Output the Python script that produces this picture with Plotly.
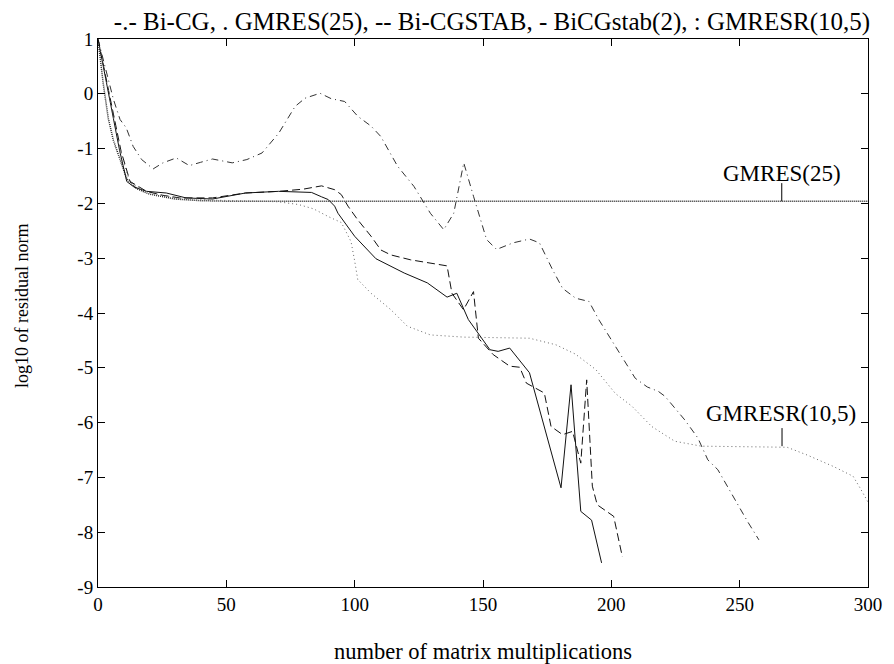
import plotly.graph_objects as go

# ---- data ----
bicg_x = [0, 3, 6, 8.6, 11, 13.7, 17, 21.5, 25.3, 30.5, 35.6, 40, 44.6, 52.3, 58, 63.9, 70.4, 76.8, 80.7,
          86.5, 90.9, 96.1, 101.2, 106.4, 110.2, 116.7, 123.1, 129.5, 134.7, 138.6, 142.5, 146.3, 151.4,
          155.3, 161.7, 168.1, 172, 177.1, 181, 186.1, 191.3, 195.1, 201.6, 209.3, 214, 218.3, 220.9,
          228.6, 233.7, 237.6, 241.5, 248, 253, 257.5]
bicg_y = [1.0, 0.45, -0.1, -0.47, -0.62, -0.96, -1.2, -1.37, -1.26, -1.17, -1.31, -1.25, -1.19, -1.26, -1.2,
          -1.08, -0.72, -0.23, -0.08, 0.01, -0.09, -0.14, -0.41, -0.59, -0.78, -1.32, -1.69, -2.18, -2.48,
          -2.18, -1.26, -1.87, -2.66, -2.84, -2.72, -2.65, -2.72, -3.21, -3.55, -3.73, -3.79, -4.12, -4.61,
          -5.19, -5.35, -5.43, -5.52, -5.95, -6.28, -6.68, -6.86, -7.4, -7.8, -8.14]

gmres_x = [0, 2, 4, 6, 8.6, 11.2, 15, 20, 30, 40, 50, 300]
gmres_y = [1.0, 0.2, -0.45, -0.85, -1.2, -1.55, -1.73, -1.83, -1.92, -1.95, -1.96, -1.96]

bicgstab_x = [0, 3, 6, 9, 12.5, 18.9, 25, 31.8, 44.6, 57.5, 70.4, 80, 87.1, 92.2, 94.8, 97.4, 101.2, 106.4,
              110.2, 114.1, 121.8, 136, 137.9, 142.4, 146.3, 148.2, 154, 160.4, 164.3, 166.9, 173.9, 176.5,
              181, 184.9, 188.1, 190.4, 192.6, 194.5, 200.9, 204.3]
bicgstab_y = [1.0, 0.3, -0.4, -1.05, -1.6, -1.78, -1.85, -1.9, -1.9, -1.81, -1.78, -1.74, -1.68, -1.75, -1.84,
              -2.05, -2.3, -2.6, -2.85, -2.94, -3.03, -3.14, -3.64, -3.94, -3.61, -4.46, -4.76, -4.97, -4.99,
              -5.28, -5.46, -6.07, -6.22, -6.16, -6.74, -5.22, -7.16, -7.5, -7.71, -8.45]

bicgstab2_x = [0, 3, 6, 8.4, 11.2, 14, 18.9, 26.6, 34.3, 44.6, 57.5, 70.4, 78.1, 83.2, 87.1, 89.7, 92.2, 93.5,
               100, 108.3, 119.3, 128.3, 136, 139.8, 144.3, 152.7, 155.9, 160.4, 168.1, 180.4, 184.3, 188.1,
               192.3, 196.2]
bicgstab2_y = [1.0, 0.3, -0.45, -1.03, -1.6, -1.7, -1.78, -1.81, -1.9, -1.92, -1.81, -1.78, -1.79, -1.8, -1.88,
               -1.93, -2.05, -2.18, -2.6, -3.01, -3.27, -3.45, -3.71, -3.64, -4.12, -4.67, -4.70, -4.64, -5.09,
               -7.19, -5.31, -7.62, -7.78, -8.56]

gmresr_x = [0, 3, 6, 9, 12, 15, 20, 30, 45, 60, 70, 78.1, 84, 89.7, 94.8, 97, 98.6, 100, 101.2, 106.4, 114.1,
            120.5, 129.5, 142.4, 168.1, 178.4, 186, 193.9, 201.6, 208, 215.7, 224.7, 235, 268.5, 276.2, 286.5,
            294.2, 297, 300]
gmresr_y = [1.0, 0.3, -0.4, -1.1, -1.55, -1.7, -1.8, -1.9, -1.94, -1.95, -1.97, -2.02, -2.1, -2.24, -2.35, -2.55,
            -2.7, -3.05, -3.39, -3.64, -3.94, -4.24, -4.4, -4.44, -4.46, -4.58, -4.75, -5.03, -5.47, -5.70, -6.07,
            -6.34, -6.43, -6.45, -6.59, -6.80, -6.98, -7.2, -7.45]

x_ticks = [0, 50, 100, 150, 200, 250, 300]
y_ticks = [1, 0, -1, -2, -3, -4, -5, -6, -7, -8, -9]
y_ticktext = ["1", "0", "-1", "-2", "-3", "-4", "-5", "-6", "-7", "-8", "-9"]

title_text = "-.- Bi-CG, . GMRES(25), -- Bi-CGSTAB, - BiCGstab(2), : GMRESR(10,5)"

FONT = "Liberation Serif"

fig = go.Figure()
fig.add_trace(go.Scatter(x=bicg_x, y=bicg_y, mode="lines", name="Bi-CG",
                         line=dict(color="#333333", width=1, dash="7px,4px,1px,4px")))
fig.add_trace(go.Scatter(x=gmres_x, y=gmres_y, mode="lines", name="GMRES(25)",
                         line=dict(color="#222222", width=1.5, dash="1px,1px")))
fig.add_trace(go.Scatter(x=bicgstab_x, y=bicgstab_y, mode="lines", name="Bi-CGSTAB",
                         line=dict(color="#111111", width=1, dash="8px,4px")))
fig.add_trace(go.Scatter(x=bicgstab2_x, y=bicgstab2_y, mode="lines", name="BiCGstab(2)",
                         line=dict(color="#111111", width=1)))
fig.add_trace(go.Scatter(x=gmresr_x, y=gmresr_y, mode="lines", name="GMRESR(10,5)",
                         line=dict(color="#666666", width=1, dash="1px,3px")))

# leader lines for labels
fig.add_shape(type="line", x0=266.4, x1=266.4, y0=-1.63, y1=-1.96, line=dict(color="black", width=1))
fig.add_shape(type="line", x0=266.5, x1=266.5, y0=-6.1, y1=-6.43, line=dict(color="black", width=1))

fig.add_annotation(x=266.4, y=-1.45, text="GMRES(25)", showarrow=False, xanchor="center", yanchor="middle",
                   font=dict(family=FONT, size=23, color="black"))
fig.add_annotation(x=266.0, y=-5.83, text="GMRESR(10,5)", showarrow=False, xanchor="center", yanchor="middle",
                   font=dict(family=FONT, size=23, color="black"))

# axis titles as annotations
fig.add_annotation(x=0.5, y=0, xref="paper", yref="paper", yshift=-64, text="number of matrix multiplications",
                   showarrow=False, xanchor="center", yanchor="middle",
                   font=dict(family=FONT, size=22.5, color="black"))
fig.add_annotation(x=0, y=0.513, xref="paper", yref="paper", xshift=-76, text="log10 of residual norm",
                   showarrow=False, textangle=-90, xanchor="center", yanchor="middle",
                   font=dict(family=FONT, size=18, color="black"))

fig.update_layout(
    width=894, height=664,
    margin=dict(l=98, r=19, t=39, b=77),
    paper_bgcolor="white", plot_bgcolor="white",
    showlegend=False,
    title=dict(text=title_text, x=492 / 894, xanchor="center", y=1 - 21 / 664, yanchor="middle",
               xref="container", yref="container", font=dict(family=FONT, size=25, color="black")),
    font=dict(family=FONT, color="black"),
)
fig.update_xaxes(range=[0, 300], tickvals=x_ticks, ticks="inside", ticklen=7, tickcolor="black",
                 showline=True, linecolor="black", linewidth=1, mirror="ticks", showgrid=False, zeroline=False,
                 tickfont=dict(family=FONT, size=19, color="black"))
fig.update_yaxes(range=[-9, 1], tickvals=y_ticks, ticktext=y_ticktext, ticks="inside", ticklen=7,
                 tickcolor="black", showline=True, linecolor="black", linewidth=1, mirror="ticks",
                 showgrid=False, zeroline=False, tickfont=dict(family=FONT, size=19, color="black"))

fig.write_html("out.html")
